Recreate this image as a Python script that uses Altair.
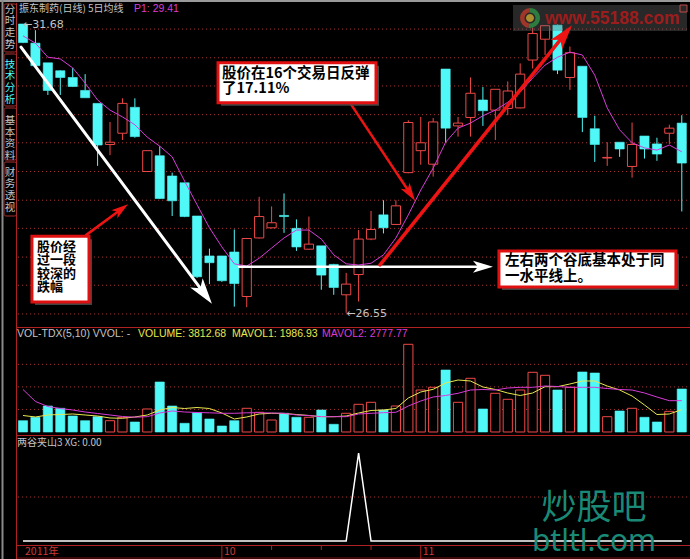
import math
import altair as alt
import pandas as pd

W, H = 690, 559

# ---- 振东制药 daily bars, Sep - Nov 2011 ---------------------------------
opens = [31.68, 31.34, 30.99, 30.85, 30.73, 30.50, 30.27, 29.54, 29.74, 30.20,
         29.06, 29.34, 28.98, 28.86, 28.27, 27.56, 27.56, 27.63, 26.84, 27.88,
         28.06, 28.28, 28.05, 27.68, 27.74, 27.41, 26.87, 27.23, 27.86, 28.29,
         28.12, 29.04, 29.43, 29.19, 30.88, 29.87, 30.02, 30.33, 30.15, 30.18,
         30.19, 31.04, 31.41, 31.66, 30.73, 30.93, 29.82, 29.30, 29.58, 29.15,
         29.69, 29.55, 29.74, 29.92]
highs = [31.68, 31.57, 30.99, 30.86, 30.90, 30.79, 30.27, 29.94, 30.36, 30.36,
         29.43, 29.51, 29.04, 28.86, 28.27, 27.69, 27.56, 28.03, 27.88, 28.61,
         28.44, 28.67, 28.21, 28.26, 27.74, 27.42, 27.26, 28.02, 28.36, 28.55,
         28.55, 29.97, 30.03, 30.01, 30.88, 30.03, 30.73, 30.56, 30.52, 30.66,
         30.98, 31.62, 31.66, 31.67, 31.28, 30.93, 30.05, 29.58, 29.58, 29.93,
         29.69, 29.66, 29.89, 30.06]
lows = [31.34, 30.93, 30.42, 30.42, 30.56, 30.37, 29.16, 29.35, 29.62, 29.66,
        29.06, 28.57, 28.27, 28.25, 27.17, 27.06, 27.10, 26.66, 26.65, 27.87,
        28.05, 27.97, 27.65, 27.67, 26.96, 26.87, 26.55, 26.75, 27.84, 27.96,
        28.11, 29.03, 29.18, 28.97, 29.57, 29.68, 29.68, 29.87, 29.62, 30.06,
        30.18, 30.89, 31.13, 30.79, 30.51, 29.76, 29.23, 29.16, 29.32, 28.95,
        29.29, 29.25, 29.55, 28.35]
closes = [31.35, 30.94, 30.50, 30.73, 30.57, 30.37, 29.53, 29.58, 30.27, 29.68,
          29.43, 28.58, 28.54, 28.26, 27.19, 27.44, 27.12, 27.07, 27.87, 28.26,
          28.15, 28.26, 27.72, 27.77, 27.22, 27.00, 27.06, 27.86, 28.03, 28.06,
          28.45, 29.93, 29.57, 29.94, 29.83, 29.92, 30.45, 30.14, 30.52, 30.49,
          30.79, 31.51, 31.65, 30.86, 31.17, 30.02, 29.54, 29.31, 29.46, 29.54,
          29.46, 29.37, 29.83, 29.21]
ma5 = [31.47, 31.34, 31.09, 31.06, 30.90, 30.63, 30.33, 30.15, 30.03, 29.89,
       29.67, 29.51, 29.32, 28.89, 28.47, 28.06, 27.72, 27.42, 27.38, 27.52,
       27.70, 27.88, 28.02, 28.02, 27.86, 27.58, 27.42, 27.40, 27.43, 27.58,
       27.88, 28.29, 28.73, 29.12, 29.58, 29.83, 29.92, 30.05, 30.15, 30.29,
       30.47, 30.72, 30.95, 31.09, 31.18, 31.13, 30.77, 30.19, 29.80, 29.57,
       29.48, 29.44, 29.53, 29.41]

# ---- volume (手) and its 5 / 10 day averages -------------------------------
volume = [1002, 1304, 2306, 2102, 1419, 1002, 1357, 1002, 1304, 887,
          2040, 4435, 2306, 772, 1712, 1153, 532, 1002, 2102, 1747,
          1064, 1659, 1304, 1304, 1951, 683, 1659, 2457, 2634, 1951,
          2306, 7779, 3725, 3965, 5499, 2634, 4763, 2040, 3433, 2900,
          3725, 5295, 5029, 3725, 3965, 5322, 5233, 1357, 1863, 2102,
          1304, 887, 1832, 3812.68]
mavol1 = [1464, 1331, 1508, 1552, 1597, 1508, 1419, 1242, 1215, 1331,
          1508, 1951, 2173, 2084, 2173, 2084, 1685, 1153, 1331, 1597,
          1659, 1641, 1552, 1464, 1357, 1357, 1419, 1685, 1907, 1951,
          2084, 3016, 3548, 3787, 4346, 4612, 4524, 3992, 3770, 3459,
          3238, 3459, 4018, 4018, 4258, 4524, 4524, 4080, 3725, 3193,
          2395, 1552, 1597, 1986.93]
mavol2 = [3770, 2705, 2262, 2084, 1951, 1774, 1641, 1508, 1375, 1313,
          1357, 1685, 1863, 1774, 1730, 1703, 1659, 1659, 1703, 1712,
          1685, 1659, 1508, 1464, 1357, 1357, 1357, 1597, 1659, 1712,
          1747, 2306, 2750, 3105, 3238, 3433, 3725, 3770, 3725, 3903,
          3965, 3965, 4080, 4036, 3965, 3965, 3965, 3858, 3770, 3725,
          3459, 3105, 2776, 2777.77]

# ---- 两谷夹山3 signal -------------------------------------------------------
xg = [0] * 27 + [1] + [0] * 26

# ---- calendar marks on the time axis ---------------------------------------
month_idx = [1, 17, 33]
month_labels = ["2011年", "10", "11"]
week_idx = [21, 25, 29]

# ---- grid levels ------------------------------------------------------------
price_grid = [31.59, 31.08, 30.58, 30.07, 29.57, 29.06, 28.55, 28.05, 27.54, 27.04, 26.53]
vol_grid = [2000, 4000, 6000]
xg_grid = [0.5]

# ---- colours ----------------------------------------------------------------
UP = "#f04848"
DOWN = "#50f8f8"
MAG = "#d83cd8"
YEL = "#e8e850"
FRAME = "#b02222"
GRID = "#a83232"
GREY = "#c4c4c4"
ARROW_RED = "#ee1414"
TEAL = "#1a8a76"
CJK = "Noto Sans CJK SC"
LAT = "Liberation Sans"

n_bars = len(opens)
bars = pd.DataFrame({
    "n": list(range(1, n_bars + 1)),
    "open": opens, "high": highs, "low": lows, "close": closes,
    "ma5": ma5, "vol": volume, "mavol1": mavol1, "mavol2": mavol2, "xg": xg,
})
bars["up"] = bars["close"] >= bars["open"]
bars["top"] = bars[["open", "close"]].max(axis=1)
bars["bot"] = bars[["open", "close"]].min(axis=1)
bars["x0"] = bars["n"] - 0.37
bars["x1"] = bars["n"] + 0.37
bars["zero"] = 0.0
up_bars = bars[bars["up"]]
dn_bars = bars[~bars["up"]]

# ---- scales: one shared time axis, three stacked value panes -----------------
X_DOMAIN = [-0.8504, 54.661]
PRICE_DOMAIN = [22.1774, 32.1063]
VOL_DOMAIN = [-11265.0, 38318.0]
XG_DOMAIN = [-0.2045, 6.148]

xs = alt.Scale(domain=X_DOMAIN, zero=False, nice=False)
ps = alt.Scale(domain=PRICE_DOMAIN, zero=False, nice=False)
vs = alt.Scale(domain=VOL_DOMAIN, zero=False, nice=False)
gs = alt.Scale(domain=XG_DOMAIN, zero=False, nice=False)


def X(f):
    return alt.X(f, type="quantitative", scale=xs, axis=None)


def Y(f, s):
    return alt.Y(f, type="quantitative", scale=s, axis=None)


def px(n):
    return (n - X_DOMAIN[0]) / (X_DOMAIN[1] - X_DOMAIN[0]) * W


def py(p):
    return H - (p - PRICE_DOMAIN[0]) / (PRICE_DOMAIN[1] - PRICE_DOMAIN[0]) * H


def inv_px(x):
    return X_DOMAIN[0] + x / W * (X_DOMAIN[1] - X_DOMAIN[0])


def inv_py(y):
    return PRICE_DOMAIN[0] + (H - y) / H * (PRICE_DOMAIN[1] - PRICE_DOMAIN[0])


def one():
    return pd.DataFrame({"a": [0]})


def label(text, x, y, color, size=11, font=LAT, align="left", weight="normal",
          baseline="middle", **kw):
    return alt.Chart(pd.DataFrame({"t": [text]})).mark_text(
        align=align, baseline=baseline, fontSize=size, font=font,
        fontWeight=weight, color=color, **kw
    ).encode(x=alt.value(x), y=alt.value(y), text="t:N")


def hline(y, x0, x1, color, width=1.0):
    return alt.Chart(one()).mark_rule(color=color, strokeWidth=width).encode(
        x=alt.value(x0), x2=alt.value(x1), y=alt.value(y))


def vline(x, y0, y1, color, width=1.0):
    return alt.Chart(one()).mark_rule(color=color, strokeWidth=width).encode(
        x=alt.value(x), y=alt.value(y0), y2=alt.value(y1))


layers = []

# ---- window chrome ------------------------------------------------------------
layers += [
    hline(1, 0, W, "#9a9a9a", 2),
    vline(2.5, 0, H, "#8a8a8a", 2),
    vline(16.5, 3, H, FRAME),
    hline(327.5, 17, W, FRAME),
    hline(435.5, 17, W, FRAME),
    hline(545.5, 17, W, FRAME),
    hline(558, 17, W, "#7a1010"),
]
for y0, y1 in [(4, 52), (54, 106), (108, 160), (162, 216)]:
    layers.append(alt.Chart(one()).mark_rect(
        fillOpacity=0, stroke="#a83030", strokeWidth=1, cornerRadius=2
    ).encode(x=alt.value(4), x2=alt.value(16.5), y=alt.value(y0), y2=alt.value(y1)))
for text, y0, col in [("分\n时\n走\n势", 4.5, GREY), ("技\n术\n分\n析", 59.5, DOWN),
                      ("基\n本\n资\n料", 116, GREY), ("财\n务\n透\n视", 167.5, GREY)]:
    layers.append(alt.Chart(pd.DataFrame({"t": [text]})).mark_text(
        align="center", baseline="top", fontSize=10.5, font=CJK, color=col,
        lineBreak="\n", lineHeight=11.7
    ).encode(x=alt.value(10), y=alt.value(y0), text="t:N"))

# ---- grid lines -------------------------------------------------------------
layers.append(alt.Chart(pd.DataFrame({"g": price_grid})).mark_rule(
    color=GRID, strokeWidth=1, strokeDash=[1, 3]
).encode(y=Y("g", ps), x=alt.value(18), x2=alt.value(W)))
layers.append(alt.Chart(pd.DataFrame({"g": vol_grid})).mark_rule(
    color=GRID, strokeWidth=1, strokeDash=[1, 3]
).encode(y=Y("g", vs), x=alt.value(18), x2=alt.value(W)))
layers.append(alt.Chart(pd.DataFrame({"g": xg_grid})).mark_rule(
    color=GRID, strokeWidth=1, strokeDash=[1, 3]
).encode(y=Y("g", gs), x=alt.value(18), x2=alt.value(W)))

# ---- candlesticks -----------------------------------------------------------
for df, col in [(up_bars, UP), (dn_bars, DOWN)]:
    layers.append(alt.Chart(df).mark_rule(color=col, strokeWidth=1).encode(
        x=X("n"), y=Y("top", ps), y2="high"))
    layers.append(alt.Chart(df).mark_rule(color=col, strokeWidth=1).encode(
        x=X("n"), y=Y("low", ps), y2="bot"))
layers.append(alt.Chart(up_bars).mark_rect(fill="black", stroke=UP, strokeWidth=1).encode(
    x=X("x0"), x2="x1", y=Y("bot", ps), y2="top"))
layers.append(alt.Chart(dn_bars).mark_rect(fill=DOWN, stroke=DOWN, strokeWidth=0.6).encode(
    x=X("x0"), x2="x1", y=Y("bot", ps), y2="top"))
layers.append(alt.Chart(bars).mark_line(color=MAG, strokeWidth=1).encode(
    x=X("n"), y=Y("ma5", ps)))

# ---- volume -----------------------------------------------------------------
layers.append(alt.Chart(up_bars).mark_rect(fill="black", stroke=UP, strokeWidth=1).encode(
    x=X("x0"), x2="x1", y=Y("zero", vs), y2="vol"))
layers.append(alt.Chart(dn_bars).mark_rect(fill=DOWN, stroke=DOWN, strokeWidth=0.6).encode(
    x=X("x0"), x2="x1", y=Y("zero", vs), y2="vol"))
layers.append(alt.Chart(bars).mark_line(color=YEL, strokeWidth=1).encode(
    x=X("n"), y=Y("mavol1", vs)))
layers.append(alt.Chart(bars).mark_line(color=MAG, strokeWidth=1).encode(
    x=X("n"), y=Y("mavol2", vs)))

# ---- 两谷夹山 signal line -----------------------------------------------------
layers.append(alt.Chart(bars).mark_line(color="white", strokeWidth=1.5).encode(
    x=X("n"), y=Y("xg", gs)))

# ---- extreme price labels -----------------------------------------------------
hi_i = bars["high"].idxmax()
lo_i = bars["low"].idxmin()
extremes = pd.DataFrame({
    "n": [bars.loc[hi_i, "n"], bars.loc[lo_i, "n"]],
    "p": [bars.loc[hi_i, "high"], bars.loc[lo_i, "low"]],
})
extremes["t"] = ["←%.2f" % v for v in extremes["p"]]
layers.append(alt.Chart(extremes).mark_text(
    align="left", baseline="middle", fontSize=11, font="DejaVu Sans", color=GREY, dy=1
).encode(x=X("n"), y=Y("p", ps), text="t:N"))

# ---- site badge in the upper right --------------------------------------------
layers.append(alt.Chart(one()).mark_rect(fill="#6a6a6a", opacity=0.38).encode(
    x=alt.value(513), x2=alt.value(687), y=alt.value(5), y2=alt.value(31)))
for t0, t1, col, r0, r1 in [(0.0, 3.3, "#2f9a4a", 5.5, 10.0),
                            (3.3, 6.28, "#c83a2a", 5.5, 10.0),
                            (0.0, 6.28, "#d8b030", 0.0, 4.0)]:
    layers.append(alt.Chart(one()).mark_arc(
        theta=t0, theta2=t1, radius=r1, radius2=r0, color=col, opacity=0.75
    ).encode(x=alt.value(530), y=alt.value(18)))
layers.append(label("www.55188.com", 545, 18.5, "#a81c1c", size=17.5, weight="bold",
                    opacity=0.9))
layers.append(alt.Chart(one()).mark_rect(fillOpacity=0, stroke="#c04848", strokeWidth=1).encode(
    x=alt.value(680), x2=alt.value(687), y=alt.value(5), y2=alt.value(12)))

# ---- annotations: arrows, boxes and notes --------------------------------------
arrows = pd.DataFrame({
    "n0": [0.84, 18.38, 6.07, 27.31, 29.72],
    "p0": [31.27, 27.37, 27.93, 30.28, 27.40],
    "n1": [16.2, 38.81, 9.45, 32.54, 45.17],
    "p1": [26.71, 27.37, 28.48, 28.54, 31.66],
    "color": ["white", "white", ARROW_RED, ARROW_RED, ARROW_RED],
    "width": [3.0, 2.5, 2.5, 2.5, 3.5],
    "head": [26.0, 20.0, 17.0, 18.0, 25.0],
})
ends_n, ends_p, angles = [], [], []
for r in arrows.itertuples():
    dx = px(r.n1) - px(r.n0)
    dy = py(r.p1) - py(r.p0)
    length = math.hypot(dx, dy)
    ux, uy = dx / length, dy / length
    back = r.head * 0.6
    ends_n.append(inv_px(px(r.n1) - ux * back))
    ends_p.append(inv_py(py(r.p1) - uy * back))
    angles.append(math.degrees(math.atan2(dx, -dy)) % 360)
arrows["ne"] = ends_n
arrows["pe"] = ends_p
arrows["ang"] = angles
arrows["size"] = arrows["head"] ** 2

layers.append(alt.Chart(arrows).mark_rule(strokeCap="round").encode(
    x=X("n0"), x2="ne", y=Y("p0", ps), y2="pe",
    color=alt.Color("color:N", scale=None),
    strokeWidth=alt.StrokeWidth("width:Q", scale=None)))
layers.append(alt.Chart(arrows).mark_point(
    shape="M0,0L0.6,2L0,1.5L-0.6,2Z", filled=True, opacity=1, strokeWidth=0
).encode(
    x=X("n1"), y=Y("p1", ps),
    angle=alt.Angle("ang:Q", scale=None),
    size=alt.Size("size:Q", scale=None),
    color=alt.Color("color:N", scale=None)))

boxes = pd.DataFrame({
    "n0": [16.69, 1.72, 39.29],
    "n1": [29.40, 6.31, 53.53],
    "p0": [30.99, 27.91, 27.65],
    "p1": [30.28, 26.74, 27.01],
})
# drop shadow: the same boxes nudged 3 px right and down
shadow = pd.DataFrame({
    "n0": [inv_px(px(v) + 3) for v in boxes["n0"]],
    "n1": [inv_px(px(v) + 3) for v in boxes["n1"]],
    "p0": [inv_py(py(v) + 3) for v in boxes["p0"]],
    "p1": [inv_py(py(v) + 3) for v in boxes["p1"]],
})
layers.append(alt.Chart(shadow).mark_rect(fill="#4a4a4a", opacity=0.9).encode(
    x=X("n0"), x2="n1", y=Y("p0", ps), y2="p1"))
layers.append(alt.Chart(boxes).mark_rect(fill="white", stroke="#e01010", strokeWidth=3).encode(
    x=X("n0"), x2="n1", y=Y("p0", ps), y2="p1"))

# each note is one multi-line text block, anchored at its top-left corner
notes = [
    (17.01, 30.91, "股价在16个交易日反弹\n了17.11%", 14.5, 15.0),
    (2.13, 27.83, "股价经\n过一段\n较深的\n跌幅", 13.0, 13.4),
    (39.78, 27.59, "左右两个谷底基本处于同\n一水平线上。", 14.5, 16.0),
]
for n, p, text, fs, lh in notes:
    layers.append(alt.Chart(pd.DataFrame({"n": [n], "p": [p], "t": [text]})).mark_text(
        align="left", baseline="top", font=CJK, fontWeight="bold", color="black",
        fontSize=fs, lineBreak="\n", lineHeight=lh
    ).encode(x=X("n"), y=Y("p", ps), text="t:N"))

# ---- pane headers -------------------------------------------------------------
layers += [
    label("振东制药(日线) 5日均线", 19, 9, GREY, size=10, font=CJK),
    label("P1: %.2f" % ma5[-1], 134, 9, MAG, size=10.5),
    label("VOL-TDX(5,10) VVOL: -", 17, 334, GREY, size=10.5),
    label("VOLUME: %.2f" % volume[-1], 138, 334, YEL, size=10.5),
    label("MAVOL1: %.2f" % mavol1[-1], 232, 334, YEL, size=10.5),
    label("MAVOL2: %.2f" % mavol2[-1], 322, 334, MAG, size=10.5),
    label("两谷夹山3 XG: %.2f" % xg[-1], 17, 443, GREY, size=10, font=CJK),
]

# ---- time axis ---------------------------------------------------------------
layers.append(alt.Chart(pd.DataFrame({"n": month_idx[1:]})).mark_rule(
    color=FRAME, strokeWidth=1).encode(x=X("n"), y=alt.value(545), y2=alt.value(H)))
layers.append(alt.Chart(pd.DataFrame({"n": week_idx})).mark_rule(
    color=FRAME, strokeWidth=1).encode(x=X("n"), y=alt.value(545), y2=alt.value(550)))
layers.append(alt.Chart(pd.DataFrame({"n": month_idx, "t": month_labels})).mark_text(
    align="left", baseline="middle", fontSize=10.5, font=CJK, color="#cc3a3a", dx=2
).encode(x=X("n"), y=alt.value(552), text="t:N"))

# ---- forum watermark ------------------------------------------------------------
layers.append(label("炒股吧", 594, 508, TEAL, size=35, font=CJK, align="center"))
layers.append(label("btltl.com", 594, 542, TEAL, size=30, font="Noto Sans", align="center"))

chart = alt.layer(*layers).resolve_scale(y="independent").properties(
    width=W, height=H, padding=0,
    autosize=alt.AutoSizeParams(type="none"),
    background="black",
).configure_view(stroke=None)

chart.save("out.html", embed_options={"renderer": "svg", "actions": False})
